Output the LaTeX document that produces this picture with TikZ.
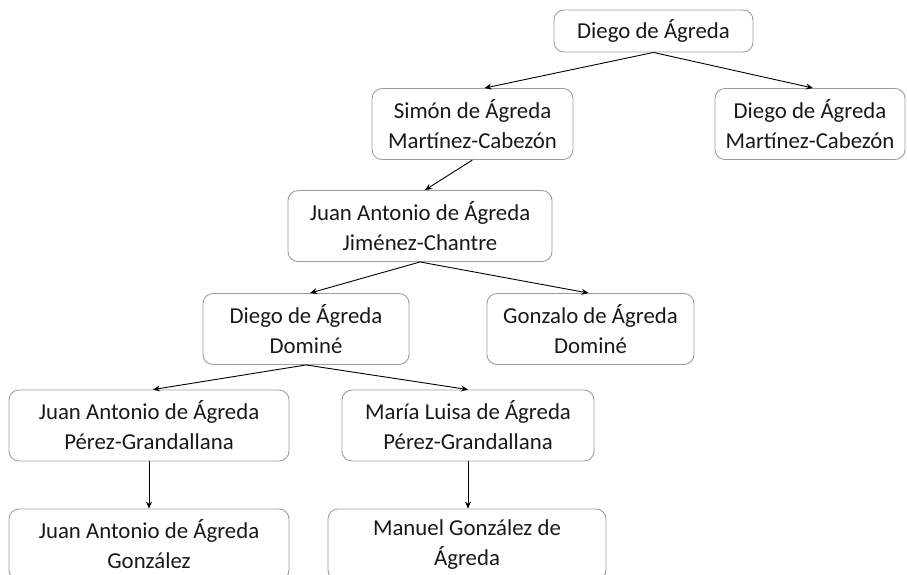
\documentclass[tikz,border=0pt]{standalone}
\usepackage{fontspec}
\setmainfont{Carlito}
\usepackage{tikz}
\usetikzlibrary{arrows.meta}

\begin{document}
\begin{tikzpicture}[x=1pt,y=-1pt,->,>={Stealth[length=7pt,width=6pt]},line width=0.9pt]
  \tikzstyle{person}=[draw=black!38,rounded corners=10pt,align=center,minimum height=71pt,
    inner sep=0pt,text=black!90,font=\fontsize{22.8}{30}\selectfont]

  \useasboundingbox (0,0) rectangle (907,574);

  
  \node[person,minimum width=199pt,minimum height=42pt] (diego) at (653.5,31) {Diego de Ágreda};
  \node[person,minimum width=201pt] (simon) at (472.5,124) {Simón de Ágreda\\Martínez-Cabezón};
  \node[person,minimum width=190pt] (diegomc) at (810,124) {Diego de Ágreda\\Martínez-Cabezón};
  \node[person,minimum width=264pt] (juanjc) at (420,226) {Juan Antonio de Ágreda\\Jiménez-Chantre};
  \node[person,minimum width=206pt] (diegodo) at (306,329) {Diego de Ágreda\\Dominé};
  \node[person,minimum width=207pt] (gonzalo) at (590.5,329) {Gonzalo de Ágreda\\Dominé};
  \node[person,minimum width=280pt] (juanpg) at (149,425.5) {Juan Antonio de Ágreda\\Pérez-Grandallana};
  \node[person,minimum width=252pt] (maria) at (468,425.5) {María Luisa de Ágreda\\Pérez-Grandallana};
  \node[person,minimum width=280pt] (juangz) at (149,544.5) {Juan Antonio de Ágreda\\González};
  \node[person,minimum width=278pt] (manuel) at (467,544.5) {Manuel González de\\Ágreda};

  
  \draw (diego.south) -- ([xshift=12pt]simon.north);
  \draw (diego.south) -- ([xshift=3pt]diegomc.north);
  \draw (simon.south) -- ([xshift=5pt]juanjc.north);
  \draw (juanjc.south) -- ([xshift=4pt]diegodo.north);
  \draw (juanjc.south) -- ([xshift=-2pt]gonzalo.north);
  \draw (diegodo.south) -- ([xshift=4pt]juanpg.north);
  \draw (diegodo.south) -- (maria.north);
  \draw (juanpg.south) -- (juangz.north);
  \draw (maria.south) -- ([xshift=1pt]manuel.north);

\end{tikzpicture}
\end{document}
